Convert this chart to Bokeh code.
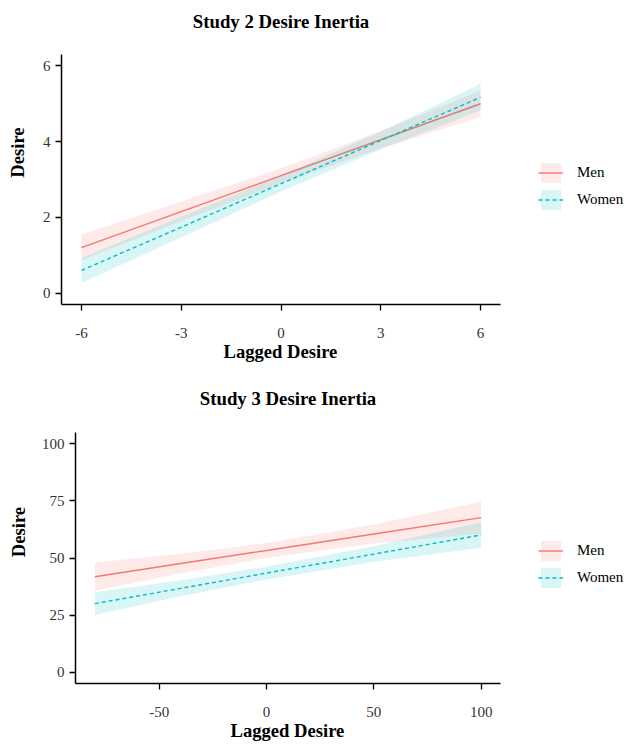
from bokeh.plotting import figure
from bokeh.models import ColumnDataSource, Legend, LegendItem, FixedTicker, Range1d, Label
from bokeh.embed import file_html
from bokeh.resources import INLINE

# ---- Study 2 data ----
s2_x = [-6, -3, 0, 3, 6]
s2_men_fit = [1.20, 2.15, 3.10, 4.05, 5.00]
s2_men_low = [0.87, 1.90, 2.90, 3.82, 4.65]
s2_men_high = [1.55, 2.42, 3.30, 4.28, 5.35]
s2_women_fit = [0.60, 1.74, 2.89, 4.03, 5.17]
s2_women_low = [0.27, 1.47, 2.68, 3.80, 4.82]
s2_women_high = [0.93, 2.02, 3.10, 4.27, 5.52]
s2_xticks = [-6, -3, 0, 3, 6]
s2_yticks = [0, 2, 4, 6]

# ---- Study 3 data ----
s3_x = [-80, -40, 0, 50, 100]
s3_men_fit = [41.8, 47.6, 53.3, 60.5, 67.7]
s3_men_low = [35.6, 43.3, 50.0, 56.3, 60.7]
s3_men_high = [48.0, 51.9, 56.6, 64.7, 74.7]
s3_women_fit = [30.0, 36.7, 43.4, 51.7, 60.1]
s3_women_low = [25.0, 33.2, 40.6, 48.3, 54.5]
s3_women_high = [35.0, 40.2, 46.2, 55.1, 65.7]
s3_xticks = [-50, 0, 50, 100]
s3_yticks = [0, 25, 50, 75, 100]

groups = ["Men", "Women"]
colors = ["#F8766D", "#00BFC4"]
dashes = ["solid", "4 3"]

FONT = "Liberation Serif"
W = 629
DATA_RIGHT = 500   # px in figure where the data area ends
XLAB_SIZE = 18.6
NBSP_W = 0.25 * XLAB_SIZE  # width of a no-break space in the serif font


def make_panel(title, x, fits, lows, highs, xticks, yticks, xr, yr,
               height, left, data_top, data_bottom, title_y, ylab_standoff, legend_y):
    x0, x1 = xr
    y0, y1 = yr
    ppx = (DATA_RIGHT - left) / (x1 - x0)
    ppy = (data_bottom - data_top) / (y1 - y0)
    x_end = x0 + (W - left) / ppx
    y_end = y1 + data_top / ppy

    p = figure(width=W, height=height, output_backend="svg", toolbar_location=None,
               x_range=Range1d(x0, x_end), y_range=Range1d(y0, y_end),
               min_border_left=left, min_border_right=0,
               min_border_top=0, min_border_bottom=height - data_bottom)
    p.outline_line_color = None
    p.xgrid.visible = False
    p.ygrid.visible = False
    p.background_fill_color = "white"
    p.border_fill_color = "white"

    items = []
    for g, c, d, f, lo, hi in zip(groups, colors, dashes, fits, lows, highs):
        src = ColumnDataSource(dict(x=x, fit=f, low=lo, high=hi))
        band = p.varea(x="x", y1="low", y2="high", source=src, fill_color=c, fill_alpha=0.15)
        ln = p.line(x="x", y="fit", source=src, line_color=c, line_width=1.4, line_dash=d)
        items.append(LegendItem(label=g, renderers=[band, ln]))

    for ax in (p.xaxis[0], p.yaxis[0]):
        ax.axis_line_color = "black"
        ax.axis_line_width = 1.5
        ax.major_tick_line_color = "black"
        ax.major_tick_line_width = 1.3
        ax.major_tick_out = 6
        ax.major_tick_in = 0
        ax.minor_tick_line_color = None
        ax.major_label_text_font = FONT
        ax.major_label_text_font_size = "15px"
        ax.major_label_text_color = "#333333"
        ax.axis_label_text_font = FONT
        ax.axis_label_text_font_size = f"{XLAB_SIZE}px"
        ax.axis_label_text_font_style = "bold"
        ax.axis_label_text_color = "black"

    p.xaxis.bounds = (x0, x1)
    p.yaxis.bounds = (y0, y1)
    p.xaxis.ticker = FixedTicker(ticks=xticks)
    p.yaxis.ticker = FixedTicker(ticks=yticks)
    p.xaxis.major_label_overrides = {t: str(t) for t in xticks}
    p.yaxis.major_label_overrides = {t: str(t) for t in yticks}

    # axis title is centred on the whole frame; pad it so it centres on the data area
    frame_center = (left + W) / 2
    data_center = (left + DATA_RIGHT) / 2
    n_pad = int(round(2 * (frame_center - data_center) / NBSP_W))
    p.xaxis.axis_label = "Lagged Desire" + "\u00a0" * n_pad
    p.yaxis.axis_label = "Desire"
    p.xaxis.major_label_standoff = 17
    p.xaxis.axis_label_standoff = 0
    p.yaxis.major_label_standoff = 5
    p.yaxis.axis_label_standoff = ylab_standoff

    p.add_layout(Label(x=(x0 + x1) / 2, y=y_end - title_y / ppy, text=title,
                       text_align="center", text_baseline="middle", text_font=FONT,
                       text_font_size="18.8px", text_font_style="bold", text_color="black"))

    legend = Legend(items=items, location=(DATA_RIGHT - left + 38, legend_y),
                    orientation="vertical",
                    glyph_width=25, glyph_height=25, spacing=2, padding=0, margin=0,
                    label_standoff=14, label_text_font=FONT, label_text_font_size="15px",
                    label_text_color="black", border_line_color=None,
                    background_fill_alpha=0, label_height=25)
    p.add_layout(legend)
    return p


p1 = make_panel("Study 2 Desire Inertia", s2_x,
                [s2_men_fit, s2_women_fit], [s2_men_low, s2_women_low],
                [s2_men_high, s2_women_high], s2_xticks, s2_yticks,
                (-6.6, 6.6), (-0.3, 6.3), 380, 61, 54, 304, 21, 12, 92)
p2 = make_panel("Study 3 Desire Inertia", s3_x,
                [s3_men_fit, s3_women_fit], [s3_men_low, s3_women_low],
                [s3_men_high, s3_women_high], s3_xticks, s3_yticks,
                (-89, 109), (-5, 105), 366, 75, 52, 303, 18, 10, 93)

open("out.html", "w").write(file_html([p1, p2], INLINE))
